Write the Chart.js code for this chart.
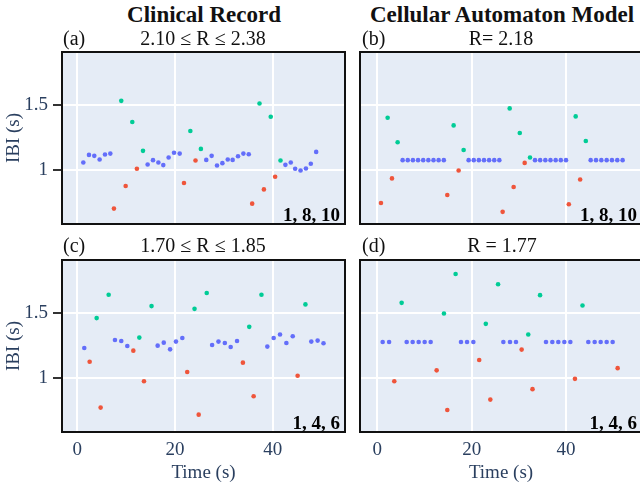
<!DOCTYPE html>
<html><head><meta charset="utf-8">
<script src="https://cdn.jsdelivr.net/npm/chart.js@4.4.0/dist/chart.umd.min.js"></script>
<style>
html,body{margin:0;padding:0;background:#fff;overflow:hidden;width:640px;height:484px;}
#wrap{position:relative;width:640px;height:484px;overflow:hidden;font-family:'Liberation Serif','Times New Roman',serif;}
canvas{position:absolute;}
.t{position:absolute;white-space:nowrap;line-height:1;color:#111;}
.c{transform:translateX(-50%);}
</style></head><body>
<div id="wrap">
<canvas id="pa" width="350" height="214" style="left:0;top:30px"></canvas>
<canvas id="pb" width="310" height="214" style="left:350px;top:30px"></canvas>
<canvas id="pc" width="350" height="246" style="left:0;top:238px"></canvas>
<canvas id="pd" width="310" height="246" style="left:350px;top:238px"></canvas>
<div class="t c" style="left:204px;top:3px;font-size:23px;font-weight:bold;">Clinical Record</div>
<div class="t c" style="left:502px;top:3px;font-size:23px;font-weight:bold;">Cellular Automaton Model</div>
<div class="t" style="left:63px;top:28px;font-size:20px;">(a)</div>
<div class="t c" style="left:203px;top:28px;font-size:20px;">2.10 ≤ R ≤ 2.38</div>
<div class="t" style="left:362px;top:28px;font-size:20px;">(b)</div>
<div class="t c" style="left:501px;top:28px;font-size:20px;">R= 2.18</div>
<div class="t" style="left:63px;top:235px;font-size:20px;">(c)</div>
<div class="t c" style="left:203px;top:235px;font-size:20px;">1.70 ≤ R ≤ 1.85</div>
<div class="t" style="left:362px;top:235px;font-size:20px;">(d)</div>
<div class="t c" style="left:502px;top:235px;font-size:20px;">R = 1.77</div>
</div>
<script>
// ---- data: [time (s), IBI (s)] ----
const xTicks = [0, 20, 40];
const yTicks = [1, 1.5];

const aBlue = [[1.23,1.061],[2.39,1.119],[3.48,1.112],[4.57,1.084],[5.67,1.122],[6.76,1.129],
  [14.4,1.046],[15.5,1.079],[16.6,1.061],[17.6,1.041],[18.7,1.099],[19.8,1.135],[20.96,1.129],
  [26.4,1.081],[27.5,1.112],[28.6,1.038],[29.7,1.056],[30.8,1.084],[31.8,1.081],[32.9,1.109],[34.0,1.129],[35.1,1.124],
  [42.6,1.043],[43.7,1.061],[44.6,1.013],[45.7,1.0],[46.8,1.015],[47.8,1.051],[48.9,1.142]];
const aGreen = [[9.0,1.533],[11.26,1.371],[13.45,1.150],[23.14,1.302],[25.3,1.165],[37.3,1.513],[39.6,1.411],[41.6,1.076]];
const aRed = [[7.5,0.708],[9.9,0.881],[12.2,1.013],[21.84,0.904],[24.2,1.076],[35.8,0.746],[38.2,0.855],[40.5,0.952]];

const bBlue = [[5.37,1.079],[6.46,1.079],[7.55,1.079],[8.64,1.079],[9.73,1.079],[10.82,1.079],[11.91,1.079],[13.0,1.079],[14.1,1.079],
  [19.36,1.079],[20.45,1.079],[21.53,1.079],[22.62,1.079],[23.70,1.079],[24.79,1.079],[25.87,1.079],
  [33.43,1.079],[34.52,1.079],[35.62,1.079],[36.71,1.079],[37.81,1.079],[38.9,1.079],[40.0,1.079],
  [45.23,1.079],[46.36,1.079],[47.49,1.079],[48.62,1.079],[49.74,1.079],[50.87,1.079],[52.0,1.079]];
const bGreen = [[2.19,1.404],[4.31,1.216],[16.18,1.345],[18.3,1.157],[28.06,1.475],[30.2,1.287],[32.37,1.099],[42.05,1.414],[44.2,1.226]];
const bRed = [[0.78,0.751],[3.11,0.939],[14.84,0.812],[17.24,1.0],[26.57,0.683],[28.9,0.873],[31.24,1.058],[40.6,0.741],[43.0,0.931]];

const cBlue = [[1.43,1.233],[7.71,1.295],[9.0,1.287],[10.24,1.249],[16.45,1.251],[17.7,1.274],[19.0,1.223],[20.2,1.282],[21.5,1.310],
  [27.6,1.256],[28.9,1.282],[30.2,1.272],[31.4,1.241],[32.7,1.287],[38.9,1.244],[40.2,1.310],[41.5,1.336],[42.8,1.272],[44.1,1.323],
  [47.9,1.282],[49.2,1.290],[50.4,1.269]];
const cGreen = [[3.96,1.462],[6.42,1.641],[12.7,1.313],[15.2,1.554],[24.0,1.533],[26.5,1.654],[35.2,1.395],[37.7,1.641],[46.7,1.567]];
const cRed = [[2.53,1.128],[4.78,0.777],[11.47,1.213],[13.65,0.979],[22.5,1.049],[24.85,0.723],[33.9,1.121],[36.1,0.864],[45.1,1.021]];

const dBlue = [[1.14,1.279],[2.5,1.279],[6.23,1.279],[7.50,1.279],[8.77,1.279],[10.04,1.279],[11.31,1.279],
  [17.74,1.279],[19.02,1.279],[20.36,1.279],[26.72,1.279],[28.13,1.279],[29.40,1.279],
  [35.76,1.279],[37.10,1.279],[38.37,1.279],[39.65,1.279],[40.92,1.279],
  [44.73,1.279],[46.08,1.279],[47.35,1.279],[48.62,1.279],[49.89,1.279]];
const dGreen = [[5.16,1.579],[14.13,1.497],[16.6,1.80],[23.0,1.418],[25.6,1.721],[32.0,1.336],[34.5,1.638],[43.5,1.559]];
const dRed = [[3.6,0.979],[12.58,1.062],[14.84,0.759],[21.6,1.141],[23.96,0.838],[30.6,1.221],[32.9,0.918],[41.9,0.997],[50.95,1.079]];

// ---- styling ----
const BLUE = '#636efa', GREEN = '#00cc96', RED = '#ef553b';
const AXC = '#2a3f5f';
const FAM = "'Liberation Serif','Times New Roman',serif";

const framePlugin = {
  id: 'frame',
  beforeDraw(chart) {
    const {ctx, chartArea: a} = chart;
    ctx.save(); ctx.fillStyle = '#e5ecf6';
    ctx.fillRect(a.left, a.top, a.right - a.left, a.bottom - a.top); ctx.restore();
  },
  afterDraw(chart, args, opts) {
    const {ctx, chartArea: a} = chart;
    ctx.save();
    ctx.strokeStyle = '#111'; ctx.lineWidth = 2;
    ctx.strokeRect(a.left, a.top, a.right - a.left, a.bottom - a.top);
    ctx.font = "bold 19px " + FAM; ctx.fillStyle = '#000';
    ctx.textAlign = 'right'; ctx.textBaseline = 'alphabetic';
    ctx.fillText(opts.label, a.right - 5, a.bottom - 3);
    ctx.restore();
  }
};

function makeChart(id, series, o) {
  new Chart(document.getElementById(id), {
    type: 'scatter',
    data: { datasets: series.map(s => ({
      data: s[0].map(p => ({x: p[0], y: p[1]})),
      backgroundColor: s[1], borderWidth: 0, pointRadius: 2.3, pointHoverRadius: 2.3
    })) },
    options: {
      responsive: false, animation: false, events: [],
      layout: { padding: o.pad },
      plugins: { legend: {display: false}, tooltip: {enabled: false}, frame: {label: o.label} },
      scales: {
        x: {
          type: 'linear', min: o.xmin, max: o.xmax,
          afterBuildTicks: s => { s.ticks = xTicks.map(v => ({value: v})); },
          afterFit: s => { s.height = o.xH; },
          grid: { color: '#fff', lineWidth: 2, drawTicks: false },
          border: { display: false },
          ticks: { display: o.showX, padding: 7, color: AXC, font: {family: FAM, size: 19}, callback: v => String(v) },
          title: { display: o.showX, text: 'Time (s)', color: AXC, font: {family: FAM, size: 19}, padding: {top: 0, bottom: 0} }
        },
        y: {
          type: 'linear', min: 0.59, max: 1.907,
          afterBuildTicks: s => { s.ticks = yTicks.map(v => ({value: v})); },
          afterFit: s => { s.width = o.yW; },
          grid: { color: '#fff', lineWidth: 2, drawTicks: o.showY, tickLength: 9, tickColor: '#333', tickWidth: 2 },
          border: { display: false },
          ticks: { display: o.showY, padding: 5, color: AXC, font: {family: FAM, size: 19}, callback: v => String(v) },
          title: { display: o.showY, text: 'IBI (s)', color: AXC, font: {family: FAM, size: 19}, padding: {top: 3, bottom: 0} }
        }
      }
    },
    plugins: [framePlugin]
  });
}

makeChart('pa', [[aBlue, BLUE], [aGreen, GREEN], [aRed, RED]],
  {pad: {left: 0, top: 22, right: 5, bottom: 20}, xmin: -3.13, xmax: 54.8, xH: 0, yW: 62, showX: false, showY: true, label: '1, 8, 10'});
makeChart('pb', [[bBlue, BLUE], [bGreen, GREEN], [bRed, RED]],
  {pad: {left: 10, top: 22, right: 18, bottom: 20}, xmin: -3.667, xmax: 56.11, xH: 0, yW: 0, showX: false, showY: false, label: '1, 8, 10'});
makeChart('pc', [[cBlue, BLUE], [cGreen, GREEN], [cRed, RED]],
  {pad: {left: 0, top: 22, right: 5, bottom: 0}, xmin: -3.13, xmax: 54.8, xH: 52, yW: 62, showX: true, showY: true, label: '1, 4, 6'});
makeChart('pd', [[dBlue, BLUE], [dGreen, GREEN], [dRed, RED]],
  {pad: {left: 10, top: 22, right: 18, bottom: 0}, xmin: -3.667, xmax: 56.11, xH: 52, yW: 0, showX: true, showY: false, label: '1, 4, 6'});
</script>
</body></html>
